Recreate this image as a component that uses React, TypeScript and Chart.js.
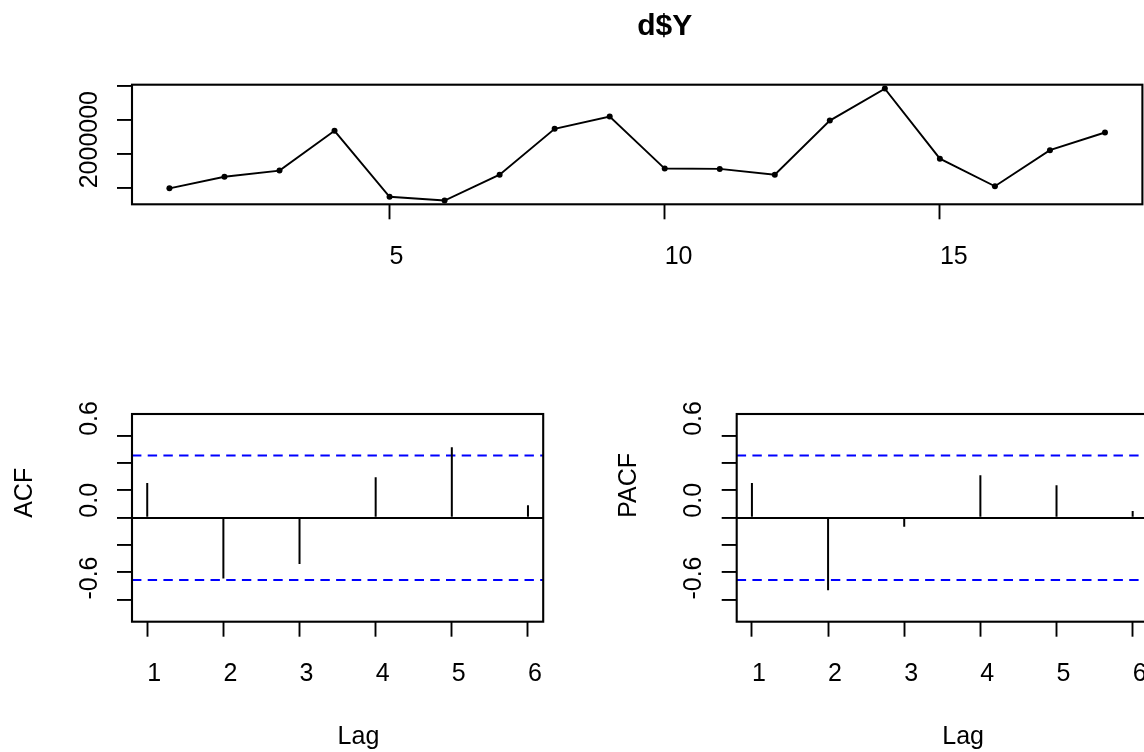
import React, { useEffect, useRef } from 'react';
import { Chart, registerables } from 'chart.js';

Chart.register(...registerables);

// ---------- data ----------
const seriesTitle = 'd$Y';
const tsTime = [1, 2, 3, 4, 5, 6, 7, 8, 9, 10, 11, 12, 13, 14, 15, 16, 17, 18];
const tsValues = [
  2.0e6, 2.34e6, 2.52e6, 3.69e6, 1.75e6, 1.64e6, 2.4e6, 3.75e6, 4.11e6,
  2.58e6, 2.57e6, 2.4e6, 3.99e6, 4.93e6, 2.87e6, 2.06e6, 3.12e6, 3.64e6,
];
const tsXTicks = [5, 10, 15];
const tsXTickLabels = ['5', '10', '15'];
const tsYTicks = [2e6, 3e6, 4e6, 5e6];
const tsYTickLabels = ['2000000', '', '', ''];
const tsXRange = [0.32, 18.68];
const tsYRange = [1.53e6, 5.045e6];

const lags = [1, 2, 3, 4, 5, 6];
const lagTickLabels = ['1', '2', '3', '4', '5', '6'];
const acfValues = [0.254, -0.446, -0.339, 0.296, 0.516, 0.091];
const pacfValues = [0.254, -0.532, -0.066, 0.311, 0.237, 0.049];
const ciBound = 0.456;
const corrYTicks = [-0.6, -0.4, -0.2, 0, 0.2, 0.4, 0.6];
const corrYTickLabels = ['-0.6', '', '', '0.0', '', '', '0.6'];
const lagRange = [0.8, 6.2];
const corrYRange = [-0.762, 0.76];

// ---------- styling ----------
const FONT = '"Liberation Sans", Arial, Helvetica, sans-serif';
const FS = 25;
const LW = 1.9;
const TICK = 15;
const Y_AXIS_W = 54.7;

const boxPlugin = {
  id: 'rBox',
  afterDatasetsDraw(chart: any) {
    const { ctx, chartArea: a } = chart;
    ctx.save();
    ctx.strokeStyle = '#000';
    ctx.lineWidth = 2.1;
    ctx.strokeRect(a.left, a.top, a.right - a.left, a.bottom - a.top);
    ctx.restore();
  },
};

type TextItem = { text: string; kind: 'title' | 'xlab' | 'ylab' };
const textPlugin = (items: TextItem[]) => ({
  id: 'rText',
  afterDraw(chart: any) {
    const { ctx, chartArea: a } = chart;
    ctx.save();
    ctx.fillStyle = '#000';
    ctx.textAlign = 'left';
    ctx.textBaseline = 'alphabetic';
    for (const it of items) {
      if (it.kind === 'title') {
        ctx.font = `bold 30px ${FONT}`;
        ctx.fillText(it.text, (a.left + a.right) / 2, a.top - 50.2);
      } else if (it.kind === 'xlab') {
        ctx.font = `${FS}px ${FONT}`;
        ctx.fillText(it.text, (a.left + a.right) / 2, a.bottom + 122.3);
      } else {
        ctx.font = `${FS}px ${FONT}`;
        ctx.save();
        ctx.translate(a.left - 100.3, (a.top + a.bottom) / 2);
        ctx.rotate(-Math.PI / 2);
        ctx.fillText(it.text, 0, 0);
        ctx.restore();
      }
    }
    ctx.restore();
  },
});

const xAxis = (range: number[], ticks: number[], labels: string[]) => ({
  type: 'linear',
  min: range[0],
  max: range[1],
  offset: false,
  afterBuildTicks: (s: any) => {
    s.ticks = ticks.map((v) => ({ value: v }));
  },
  afterFit: (s: any) => {
    s.height = 60;
  },
  border: { display: false },
  grid: {
    display: true,
    offset: false,
    drawOnChartArea: false,
    drawTicks: true,
    tickLength: TICK,
    tickWidth: LW,
    tickColor: '#000',
  },
  ticks: {
    autoSkip: false,
    minRotation: 0,
    maxRotation: 0,
    align: 'start',
    padding: 22.8,
    color: '#000',
    font: { family: FONT, size: FS },
    callback: (_v: any, i: number) => labels[i],
  },
});

const yAxis = (range: number[], ticks: number[], labels: string[], zeroLine: boolean) => ({
  type: 'linear',
  min: range[0],
  max: range[1],
  afterBuildTicks: (s: any) => {
    s.ticks = ticks.map((v) => ({ value: v }));
  },
  afterFit: (s: any) => {
    s.width = Y_AXIS_W;
  },
  border: { display: false },
  grid: {
    display: true,
    drawOnChartArea: zeroLine,
    color: (c: any) => (zeroLine && c.tick && Math.abs(c.tick.value) < 1e-12 ? '#000' : 'rgba(0,0,0,0)'),
    lineWidth: LW,
    drawTicks: true,
    tickLength: TICK,
    tickWidth: LW,
    tickColor: '#000',
  },
  ticks: {
    autoSkip: false,
    minRotation: 90,
    maxRotation: 90,
    crossAlign: 'far',
    align: 'start',
    padding: 0,
    color: '#000',
    font: { family: FONT, size: FS },
    callback: (_v: any, i: number) => labels[i],
  },
});

function makeTs(canvas: HTMLCanvasElement) {
  return new Chart(canvas, {
    type: 'line',
    data: {
      datasets: [
        {
          data: tsTime.map((t, i) => ({ x: t, y: tsValues[i] })),
          borderColor: '#000',
          borderWidth: LW,
          pointRadius: 3,
          pointHoverRadius: 3,
          pointBackgroundColor: '#000',
          pointBorderWidth: 0,
          tension: 0,
          fill: false,
        },
      ],
    },
    options: {
      animation: false,
      responsive: false,
      events: [],
      layout: { padding: { left: 132 - Y_AXIS_W, right: 17.6, top: 84.7, bottom: 35.7 } },
      plugins: { legend: { display: false }, tooltip: { enabled: false }, title: { display: false } },
      scales: {
        x: xAxis(tsXRange, tsXTicks, tsXTickLabels),
        y: yAxis(tsYRange, tsYTicks, tsYTickLabels, false),
      },
    } as any,
    plugins: [boxPlugin, textPlugin([{ text: seriesTitle, kind: 'title' }])],
  });
}

function makeCorr(canvas: HTMLCanvasElement, values: number[], label: string, areaLeft: number, padRight: number) {
  const dash = (y: number) => ({
    type: 'line',
    data: lagRange.map((x) => ({ x, y })),
    borderColor: '#0000FF',
    borderWidth: 2,
    borderDash: [9.4, 6.3],
    pointRadius: 0,
    pointHoverRadius: 0,
    fill: false,
    tension: 0,
  });
  return new Chart(canvas, {
    type: 'bar',
    data: {
      datasets: [
        {
          type: 'bar',
          data: lags.map((l, i) => ({ x: l, y: values[i] })),
          backgroundColor: '#000',
          borderWidth: 0,
          barThickness: 2,
          inflateAmount: 0,
        },
        dash(ciBound),
        dash(-ciBound),
      ] as any,
    },
    options: {
      animation: false,
      responsive: false,
      events: [],
      layout: { padding: { left: areaLeft - Y_AXIS_W, right: padRight, top: 84, bottom: 70.3 } },
      plugins: { legend: { display: false }, tooltip: { enabled: false }, title: { display: false } },
      scales: {
        x: xAxis(lagRange, lags, lagTickLabels),
        y: yAxis(corrYRange, corrYTicks, corrYTickLabels, true),
      },
    } as any,
    plugins: [
      boxPlugin,
      textPlugin([
        { text: label, kind: 'ylab' },
        { text: 'Lag', kind: 'xlab' },
      ]),
    ],
  });
}

export default function App() {
  const tsRef = useRef<HTMLCanvasElement>(null);
  const acfRef = useRef<HTMLCanvasElement>(null);
  const pacfRef = useRef<HTMLCanvasElement>(null);

  useEffect(() => {
    document.body.style.margin = '0';
    Chart.defaults.font.family = FONT;
    Chart.defaults.font.size = FS;
    Chart.defaults.color = '#000';
    const charts = [
      makeTs(tsRef.current as HTMLCanvasElement),
      makeCorr(acfRef.current as HTMLCanvasElement, acfValues, 'ACF', 132, 56.8),
      makeCorr(pacfRef.current as HTMLCanvasElement, pacfValues, 'PACF', 132.7, 56.1),
    ];
    return () => charts.forEach((c) => c.destroy());
  }, []);

  return (
    <div
      style={{
        position: 'fixed',
        left: 0,
        top: 0,
        width: 1144,
        height: 752,
        overflow: 'hidden',
        background: '#ffffff',
      }}
    >
      <canvas
        ref={tsRef}
        width={1160}
        height={300}
        style={{ position: 'absolute', left: 0, top: 0, width: 1160, height: 300 }}
      />
      <canvas
        ref={acfRef}
        width={600}
        height={422}
        style={{ position: 'absolute', left: 0, top: 330, width: 600, height: 422 }}
      />
      <canvas
        ref={pacfRef}
        width={600}
        height={422}
        style={{ position: 'absolute', left: 604, top: 330, width: 600, height: 422 }}
      />
    </div>
  );
}
